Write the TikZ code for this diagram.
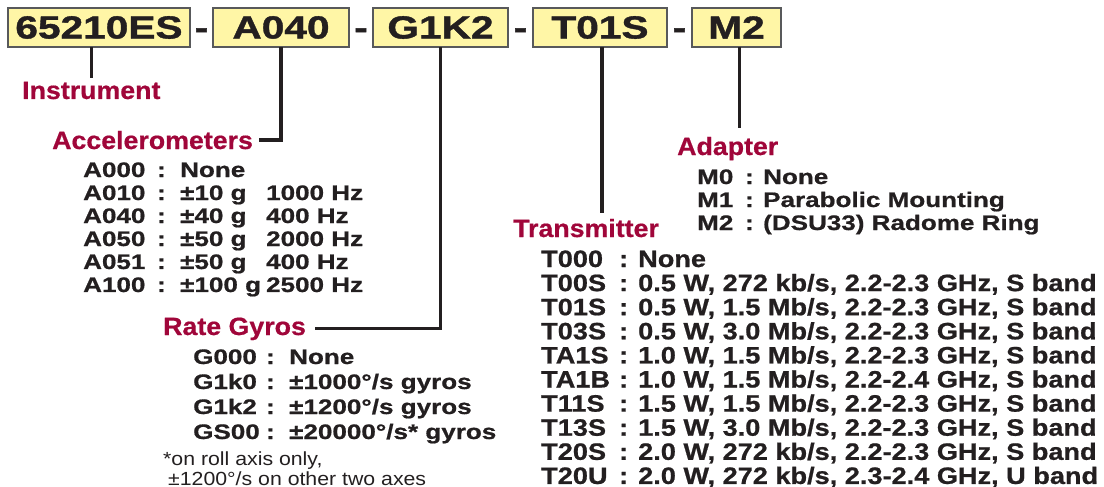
\documentclass[tikz,border=0pt]{standalone}
\usepackage{fontspec}
\setmainfont{Liberation Sans}
\newfontfamily\boxfont{Liberation Sans}[FakeStretch=1.27, FakeBold=1.2]
\newfontfamily\headfont{Liberation Sans}[FakeStretch=1.07, FakeBold=0.6]
\newfontfamily\listfont{Liberation Sans}[FakeStretch=1.24, FakeBold=0.8]
\newfontfamily\txfont{Liberation Sans}[FakeStretch=1.145, FakeBold=0.8]
\newfontfamily\notefont{Liberation Sans}[FakeStretch=1.12]
\definecolor{CodeInk}{HTML}{231F20}
\definecolor{CodeRed}{HTML}{A0063A}
\definecolor{CodeFill}{HTML}{FFF6A6}
\definecolor{CodeEdge}{HTML}{58595B}
\usetikzlibrary{positioning, calc}

\begin{document}
\begin{tikzpicture}[x=1pt, y=-1pt,
    codebox/.style={draw=CodeEdge, line width=1.6pt, fill=CodeFill,
                    minimum height=39pt, inner sep=0pt, outer sep=0pt, text=CodeInk,
                    font=\boxfont\fontsize{32}{36}\selectfont\bfseries},
    hyph/.style={anchor=base, inner sep=0pt, text=CodeInk,
                 font=\boxfont\fontsize{32}{36}\selectfont\bfseries},
    heading/.style={anchor=base west, inner sep=0pt, text=CodeRed,
                    font=\headfont\fontsize{25}{27}\selectfont\bfseries},
    optlist/.style={anchor=base west, inner sep=0pt, text=CodeInk,
                    font=\listfont\fontsize{21}{23}\selectfont\bfseries},
    link/.style={draw=CodeInk, line width=3.2pt}]
  \useasboundingbox (0,0) rectangle (1104,487);

  % Order code
  \node[codebox, minimum width=182pt] (b1) at (99,27.5) {65210ES};
  \node[codebox, minimum width=136pt, right=23pt of b1] (b2) {A040};
  \node[codebox, minimum width=135pt, right=24pt of b2] (b3) {G1K2};
  \node[codebox, minimum width=134pt, right=25pt of b3] (b4) {T01S};
  \node[codebox, minimum width=89pt, right=25pt of b4] (b5) {M2};

  \node[hyph] (h1) at ($(b1.base east)!0.5!(b2.base west)$) {-};
  \node[hyph] (h2) at ($(b2.base east)!0.5!(b3.base west)$) {-};
  \node[hyph] (h3) at ($(b3.base east)!0.5!(b4.base west)$) {-};
  \node[hyph] (h4) at ($(b4.base east)!0.5!(b5.base west)$) {-};

  % Field names
  \node[heading] (instr) at (22,99) {Instrument};
  \node[heading] (accel) at (52,149) {Accelerometers};
  \node[heading] (gyros) at (163,335) {Rate Gyros};
  \node[heading] (trans) at (513,237) {Transmitter};
  \node[heading] (adapt) at (677,155) {Adapter};

  \draw[link, shorten >=3.5pt] (b1.south -| instr.north) -- (instr.north);
  \draw[link, shorten >=6pt] (b2.south) |- (accel.east);
  \draw[link, shorten >=9pt] (b3.south) |- (gyros.east);
  \draw[link, shorten >=6pt] ([xshift=2pt]b4.south) -- ([xshift=2pt]b4.south |- trans.north);
  \draw[link, shorten >=9pt] ([xshift=3pt]b5.south) -- ([xshift=3pt]b5.south |- adapt.north);

  % Option lists
  \node[optlist] (acclist) at (83,177) {%
    \begin{tabular}[t]{@{}p{74pt}@{}p{23pt}@{}p{86pt}@{}l@{}}
      A000 & : & None \\
      A010 & : & ±10 g & 1000 Hz \\
      A040 & : & ±40 g & 400 Hz \\
      A050 & : & ±50 g & 2000 Hz \\
      A051 & : & ±50 g & 400 Hz \\
      A100 & : & ±100 g & 2500 Hz
    \end{tabular}};

  \node[optlist, font=\listfont\fontsize{21}{25}\selectfont\bfseries] (gyrlist) at (193,364) {%
    \begin{tabular}[t]{@{}p{73pt}@{}p{23pt}@{}l@{}}
      G000 & : & None \\
      G1k0 & : & ±1000°/s gyros \\
      G1k2 & : & ±1200°/s gyros \\
      GS00 & : & ±20000°/s* gyros
    \end{tabular}};

  \node[optlist, font=\notefont\fontsize{19}{20}\selectfont] (note) at (163,465) {%
    \begin{tabular}[t]{@{}l@{}}
      *on roll axis only, \\
      \hspace*{5pt}±1200°/s on other two axes
    \end{tabular}};

  \node[optlist] (adplist) at (697,184) {%
    \begin{tabular}[t]{@{}p{48pt}@{}p{18pt}@{}l@{}}
      M0 & : & None \\
      M1 & : & Parabolic Mounting \\
      M2 & : & (DSU33) Radome Ring
    \end{tabular}};

  \node[optlist, font=\txfont\fontsize{23.7}{23.1}\selectfont\bfseries] (txlist) at (541,267) {%
    \begin{tabular}[t]{@{}p{78pt}@{}p{19pt}@{}l@{}}
      T000 & : & None \\
      T00S & : & 0.5 W, 272 kb/s, 2.2-2.3 GHz, S band \\
      T01S & : & 0.5 W, 1.5 Mb/s, 2.2-2.3 GHz, S band \\
      T03S & : & 0.5 W, 3.0 Mb/s, 2.2-2.3 GHz, S band \\
      TA1S & : & 1.0 W, 1.5 Mb/s, 2.2-2.3 GHz, S band \\
      TA1B & : & 1.0 W, 1.5 Mb/s, 2.2-2.4 GHz, S band \\
      T11S & : & 1.5 W, 1.5 Mb/s, 2.2-2.3 GHz, S band \\
      T13S & : & 1.5 W, 3.0 Mb/s, 2.2-2.3 GHz, S band \\
      T20S & : & 2.0 W, 272 kb/s, 2.2-2.3 GHz, S band \\
      T20U & : & 2.0 W, 272 kb/s, 2.3-2.4 GHz, U band
    \end{tabular}};
\end{tikzpicture}
\end{document}
